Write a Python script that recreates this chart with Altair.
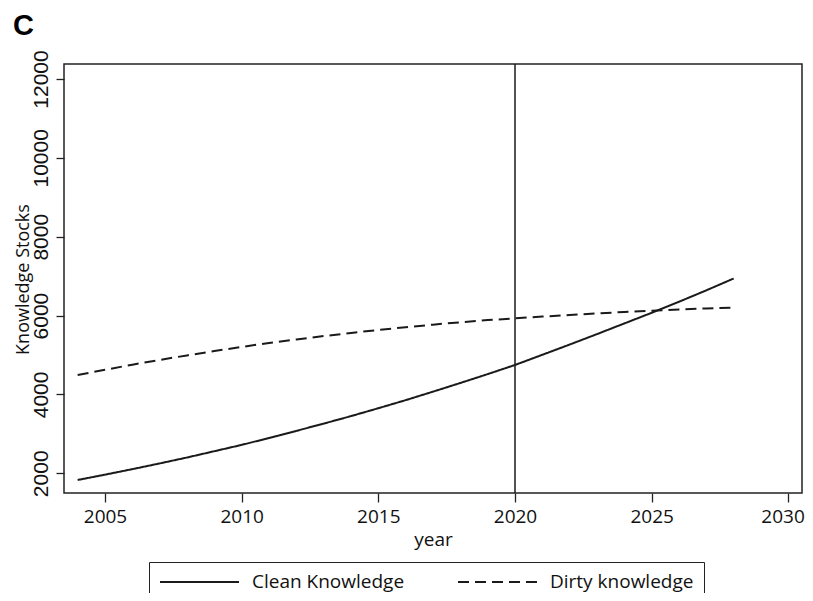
import altair as alt
import pandas as pd

years = list(range(2004, 2029))
clean = [1830, 1965, 2105, 2250, 2400, 2560, 2720, 2895, 3075, 3260, 3450, 3650, 3855,
         4070, 4290, 4515, 4747, 5005, 5265, 5530, 5800, 6070, 6350, 6640, 6940]
dirty = [4490, 4625, 4755, 4875, 4990, 5100, 5205, 5305, 5395, 5480, 5560, 5635, 5705,
         5770, 5830, 5885, 5930, 5975, 6015, 6055, 6090, 6125, 6155, 6180, 6200]
series_names = ["Clean Knowledge", "Dirty knowledge"]
vline_years = [2020]
x_ticks = [2005, 2010, 2015, 2020, 2025, 2030]
y_ticks = [2000, 4000, 6000, 8000, 10000, 12000]
panel_label = ["C"]

rows = []
for y, c, d in zip(years, clean, dirty):
    rows.append({"year": y, "value": c, "series": series_names[0]})
    rows.append({"year": y, "value": d, "series": series_names[1]})
df = pd.DataFrame(rows)

INK = "#1a1a1a"
W, H = 738, 429

xscale = alt.Scale(domain=[2003.5, 2030.5], nice=False, zero=False)
yscale = alt.Scale(domain=[1500, 12380], nice=False, zero=False)

lines = alt.Chart(df).mark_line(strokeWidth=2, color=INK).encode(
    x=alt.X("year:Q", scale=xscale,
            axis=alt.Axis(values=x_ticks, format="d", title="year",
                          labelFont="Open Sans", labelFontSize=19, labelPadding=5,
                          labelFlush=15, labelFlushOffset=16, tickSize=9,
                          titleFont="Open Sans", titleFontSize=19, titleFontWeight="normal",
                          titleBaseline="alphabetic", titleY=52, titleX=W / 2, titleAlign="center")),
    y=alt.Y("value:Q", scale=yscale,
            axis=alt.Axis(values=y_ticks, format="d", title="Knowledge Stocks",
                          labelFont="Liberation Sans", labelFontSize=21, labelAngle=270,
                          labelAlign="center", labelBaseline="alphabetic", labelPadding=9,
                          tickSize=8,
                          titleFont="Open Sans", titleFontSize=18, titleFontWeight="normal",
                          titleAngle=270, titleBaseline="alphabetic", titleAlign="center",
                          titleX=-36, titleY=215)),
    strokeDash=alt.StrokeDash(
        "series:N",
        scale=alt.Scale(domain=series_names, range=[[1, 0], [11, 6]]),
        legend=alt.Legend(title=None, orient="none", legendX=85, legendY=498,
                          direction="horizontal", strokeColor="#222", padding=10,
                          symbolType="stroke", symbolSize=6241, symbolStrokeWidth=2,
                          symbolStrokeColor=INK, clipHeight=20,
                          labelFont="Open Sans", labelFontSize=19, labelOffset=12,
                          labelColor="#111", columnPadding=52)),
)

vline = alt.Chart(pd.DataFrame({"year": vline_years})).mark_rule(
    color=INK, strokeWidth=1.5).encode(x="year:Q")

label = alt.Chart(pd.DataFrame({"t": panel_label})).mark_text(
    font="Liberation Sans", fontSize=29, fontWeight="bold", color="#000",
    align="center", baseline="middle").encode(
    text="t:N", x=alt.value(-40.5), y=alt.value(-38.5))

chart = alt.layer(vline, lines, label).properties(
    width=W, height=H,
    autosize=alt.AutoSizeParams(type="none"),
    padding={"left": 56, "top": 56, "right": 3, "bottom": 100},
    background="white",
).configure_view(stroke="#222", strokeWidth=1.5).configure_axis(
    domain=False, grid=False, tickColor="#222", tickWidth=1.3,
    labelColor="#111", titleColor="#111")

chart.save("out.html", embed_options={"renderer": "svg", "actions": False})
